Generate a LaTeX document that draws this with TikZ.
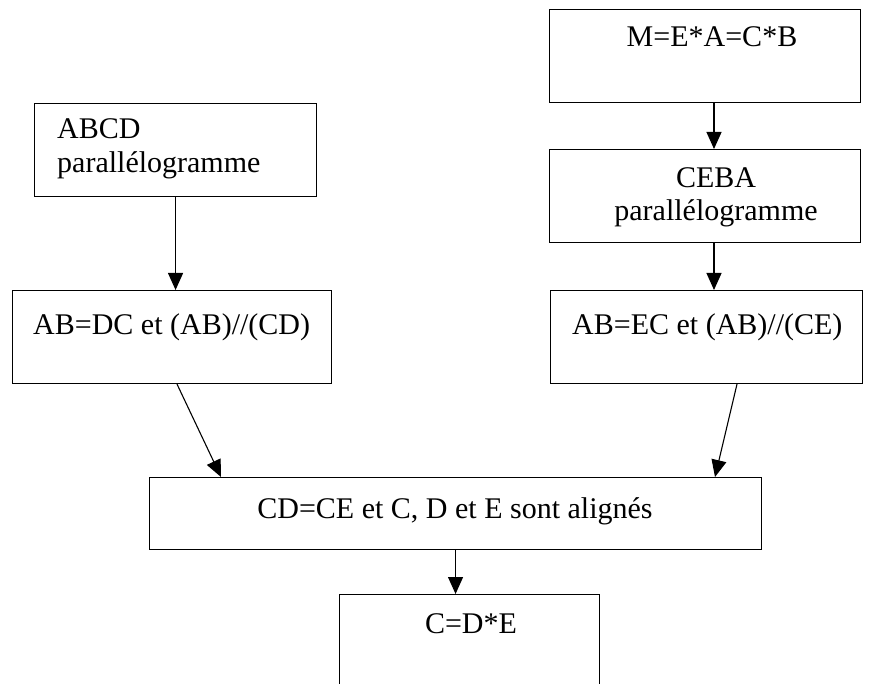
\documentclass[tikz,border=0pt]{standalone}
\usepackage{fontspec}
\setmainfont{Liberation Serif}
\usetikzlibrary{arrows.meta}
\begin{document}
\begin{tikzpicture}[x=1pt,y=-1pt,
  box/.style={draw, line width=1.1pt, inner sep=0pt, anchor=north west},
  txt/.style={inner sep=0pt, font=\fontsize{30}{34}\selectfont},
  arr/.style={line width=1.1pt, -{Triangle[length=17pt,width=15pt]}}]
\useasboundingbox (0,0) rectangle (889,684);
\clip (0,0) rectangle (889,684);
% boxes
\node[box, minimum width=282pt, minimum height=93pt] (abcd) at (34,103) {};
\node[box, minimum width=319pt, minimum height=93pt] (abdc) at (12,290) {};
\node[box, minimum width=311pt, minimum height=93pt] (m) at (549,9) {};
\node[box, minimum width=311pt, minimum height=93pt] (ceba) at (549,149) {};
\node[box, minimum width=312pt, minimum height=93pt] (abec) at (550,290) {};
\node[box, minimum width=612pt, minimum height=72pt] (cdce) at (149,477) {};
\node[box, minimum width=260pt, minimum height=130pt] (cde) at (339,594) {};
% texts
\node[txt, anchor=base west] (t1) at (57,139) {ABCD};
\node[txt, anchor=base west] (t2) at (57,173) {parallélogramme};
\node[txt, anchor=base] (t3) at (712,47) {M=E*A=C*B};
\node[txt, anchor=base] (t4) at (716,188) {CEBA};
\node[txt, anchor=base] (t5) at (716,221) {parallélogramme};
\node[txt, anchor=base west] (t6) at (33,335) {AB=DC et (AB)//(CD)};
\node[txt, anchor=base west] (t7) at (572,335) {AB=EC et (AB)//(CE)};
\node[txt, anchor=base] (t8) at (455,518) {CD=CE et C, D et E sont alignés};
\node[txt, anchor=base] (t9) at (471,633) {C=D*E};
% connector columns
\coordinate (c1) at (714,0);
\coordinate (d1) at (177,0);
\coordinate (d2) at (221,0);
\coordinate (d3) at (737,0);
\coordinate (d4) at (715,0);
% connectors
\draw[arr] (abcd.south) -- (abdc.north -| abcd.south);
\draw[arr] (m.south -| c1) -- (ceba.north -| c1);
\draw[arr] (ceba.south -| c1) -- (abec.north -| c1);
\draw[arr] (abdc.south -| d1) -- (cdce.north -| d2);
\draw[arr] (abec.south -| d3) -- (cdce.north -| d4);
\draw[arr] (cdce.south) -- (cde.north -| cdce.south);
\end{tikzpicture}
\end{document}
